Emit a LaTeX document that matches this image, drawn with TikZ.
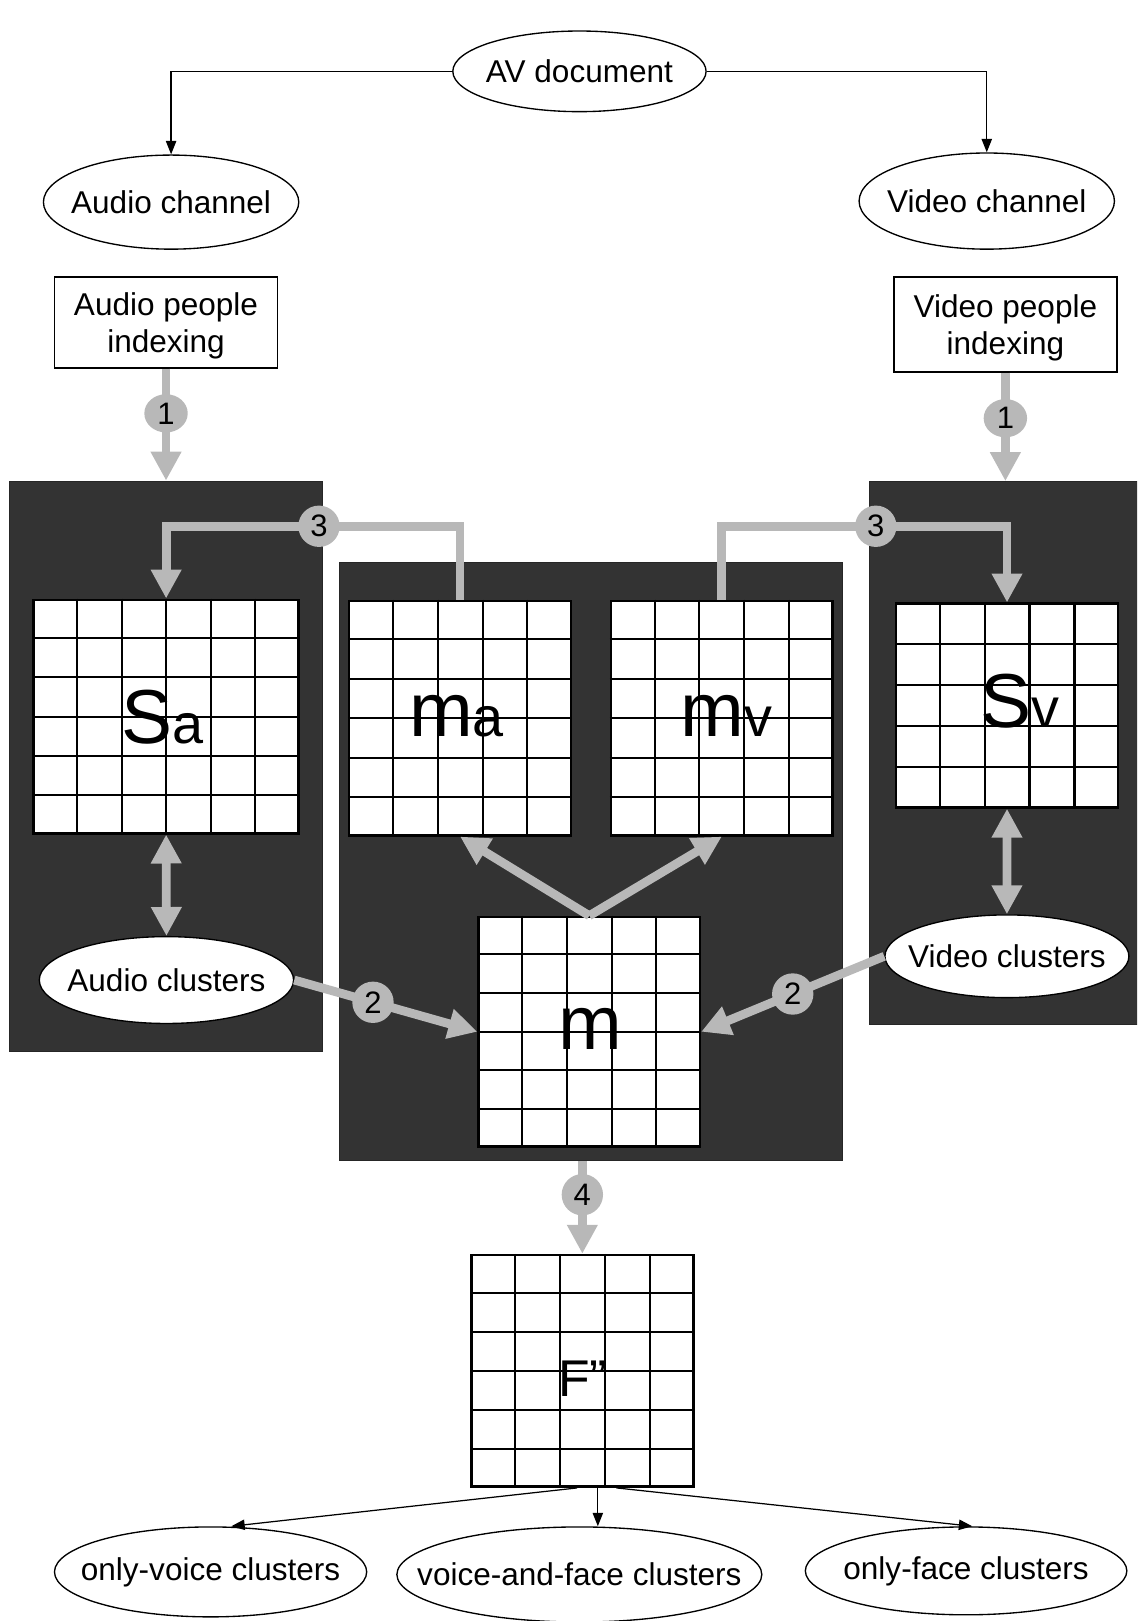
\documentclass[tikz,border=0pt]{standalone}
\usepackage{fontspec}
\setmainfont{Liberation Sans}
\usetikzlibrary{arrows.meta,calc,shapes.geometric}

\definecolor{panelgray}{HTML}{333333}
\definecolor{flowgray}{HTML}{B8B8B8}

% inner lines of a cell matrix node: #1 node, #2 columns, #3 rows
\newcommand{\cellgrid}[3]{%
  \pgfmathtruncatemacro\gcols{#2-1}\pgfmathtruncatemacro\grows{#3-1}%
  \foreach \i in {1,...,\gcols}
    \draw[cellline] ($(#1.north west)!\i/#2!(#1.north east)$) -- ($(#1.south west)!\i/#2!(#1.south east)$);
  \foreach \j in {1,...,\grows}
    \draw[cellline] ($(#1.north west)!\j/#3!(#1.south west)$) -- ($(#1.north east)!\j/#3!(#1.south east)$);
}
% big matrix name with a smaller letter on the same baseline
\newcommand{\matlabel}[2]{{\fontsize{74}{80}\selectfont #1}{\fontsize{54}{60}\selectfont #2}}

\begin{document}
\begin{tikzpicture}[
    x=1pt, y=-1pt,
    font=\fontsize{30.5}{36}\selectfont,
    >={Triangle[length=13pt,width=10pt]},
    oval/.style={ellipse, draw, fill=white, line width=1.3pt, inner sep=0pt},
    box/.style={draw, fill=white, line width=1.5pt, align=center, minimum width=216pt, text depth=0pt},
    panel/.style={draw=black!85, fill=panelgray, line width=1pt, inner sep=0pt},
    mat/.style={draw, fill=white, line width=2.5pt, inner sep=0pt},
    cellline/.style={line width=2pt},
    flow/.style={->, line width=1.2pt},
    fat/.style={line width=8.5pt, draw=flowgray},
    fatarr/.style={fat, -{Triangle[length=28pt,width=28pt]}},
    fatboth/.style={fat, {Triangle[length=28pt,width=28pt]}-{Triangle[length=28pt,width=28pt]}},
    numc/.style={circle, fill=flowgray, inner sep=0pt, minimum size=40pt, text=black,
                 font=\fontsize{30}{34}\selectfont},
  ]
    \useasboundingbox (0,0) rectangle (1100,1568);
    \clip (0,0) rectangle (1100,1568);

    % --- source and channels ---------------------------------------------
    \node[oval, minimum width=245pt, minimum height=78pt, label=center:{AV document}] (av) at (560.5,69) {};
    \node[oval, minimum width=247pt, minimum height=91pt, label=center:{Audio channel}] (ach) at (165.5,195.5) {};
    \node[oval, minimum width=247pt, minimum height=93pt, label=center:{Video channel}] (vch) at (954.5,194.5) {};
    \node[box, minimum height=88pt] (api) at (160.6,311.7) {Audio people\\indexing};
    \node[box, minimum height=92pt] (vpi) at (972.5,313.7) {Video people\\indexing};

    % --- dark panels -------------------------------------------------------
    \node[panel, minimum width=302.7pt, minimum height=551.6pt] (lp) at (160.65,741.2) {};
    \node[panel, minimum width=486.9pt, minimum height=578.7pt] (mp) at (571.85,833.65) {};
    \node[panel, minimum width=270pt, minimum height=525pt, anchor=north west] (rp) at (840.7,465.4) {};

    % --- matrices ------------------------------------------------------------
    \node[mat, minimum width=256.2pt, minimum height=225.8pt] (Sa) at (160.7,693.1) {};
    \node[mat, minimum width=214.7pt, minimum height=226.7pt] (ma) at (445.05,694.65) {};
    \node[mat, minimum width=214.4pt, minimum height=226.7pt] (mv) at (698.2,694.65) {};
    \node[mat, minimum width=215pt, minimum height=197pt] (Sv) at (974.1,682.5) {};
    \node[mat, minimum width=214pt, minimum height=222pt] (m) at (570,998) {};
    \node[mat, minimum width=214.6pt, minimum height=224pt] (F) at (563.3,1326) {};
    \cellgrid{Sa}{6}{6}
    \cellgrid{ma}{5}{6}
    \cellgrid{mv}{5}{6}
    \cellgrid{Sv}{5}{5}
    \cellgrid{m}{5}{6}
    \cellgrid{F}{5}{6}

    \node[anchor=base, inner sep=0pt] (Salbl) at (157,719) {\matlabel{S}{a}};
    \node[anchor=base, inner sep=0pt] (malbl) at (441.5,712) {\matlabel{m}{a}};
    \node[anchor=base, inner sep=0pt] (mvlbl) at (703,712) {\matlabel{m}{v}};
    \node[anchor=base, inner sep=0pt] (Svlbl) at (987,704) {\matlabel{S}{v}};
    \node[anchor=base, inner sep=0pt] (mlbl) at (571.5,1015) {\matlabel{m}{}};
    \node[anchor=base, inner sep=0pt] (Flbl) at (563.5,1351) {\fontsize{50}{56}\selectfont F”};

    % --- clusters ---------------------------------------------------------------
    \node[oval, minimum width=246pt, minimum height=84pt, label=center:{Audio clusters}] (acl) at (161,948) {};
    \node[oval, minimum width=236pt, minimum height=80pt, label=center:{Video clusters}] (vcl) at (974,925) {};
    \node[oval, minimum width=302pt, minimum height=87pt, label=center:{only-voice clusters}] (ov) at (203.7,1520.5) {};
    \node[oval, minimum width=353pt, minimum height=92pt, label=center:{voice-and-face clusters}] (vf) at (560.4,1523) {};
    \node[oval, minimum width=311pt, minimum height=85pt, label=center:{only-face clusters}] (of) at (934.5,1519.5) {};

    % --- thin connectors ------------------------------------------------------
    \draw[flow] (av.west) -| (ach.north);
    \draw[flow] (av.east) -| (vch.north);
    \draw[flow] ([xshift=-5pt]F.south) -- ([xshift=20pt]ov.north);
    \draw[flow] ([xshift=15pt]F.south) -- ([xshift=15pt]F.south |- vf.north);
    \draw[flow] ([xshift=33pt]F.south) -- ([xshift=6pt]of.north);

    % --- numbered steps -------------------------------------------------------
    \draw[fatarr] (api.south) -- node[numc, ellipse, minimum width=42pt, minimum height=37pt, pos=0.4] (n1a) {1} (api.south |- lp.north);
    \draw[fatarr] (vpi.south) -- node[numc, ellipse, minimum width=42pt, minimum height=37pt, pos=0.42] (n1b) {1} (vpi.south |- rp.north);
    \draw[fatarr] (ma.north) -- ++(0,-71) -| node[numc, pos=0.24] (n3a) {3} (Sa.north);
    \draw[fatarr] (mv.north) -- ++(0,-71) -| node[numc, pos=0.27] (n3b) {3} (Sv.north);
    \draw[fatboth] (Sa.south) -- (acl.north);
    \draw[fatboth] (Sv.south) -- (vcl.north);
    \draw[fatarr] (m.north) -- (ma.south);
    \draw[fatarr] (m.north) -- (mv.south);
    \draw[fatarr] (acl.east) -- node[numc, pos=0.43] (n2a) {2} (m.west);
    \draw[fatarr] (vcl.west) -- node[numc, pos=0.5] (n2b) {2} (m.east);
    \draw[fatarr] (F.north |- mp.south) -- node[numc, pos=0.36] (n4) {4} (F.north);
\end{tikzpicture}
\end{document}
